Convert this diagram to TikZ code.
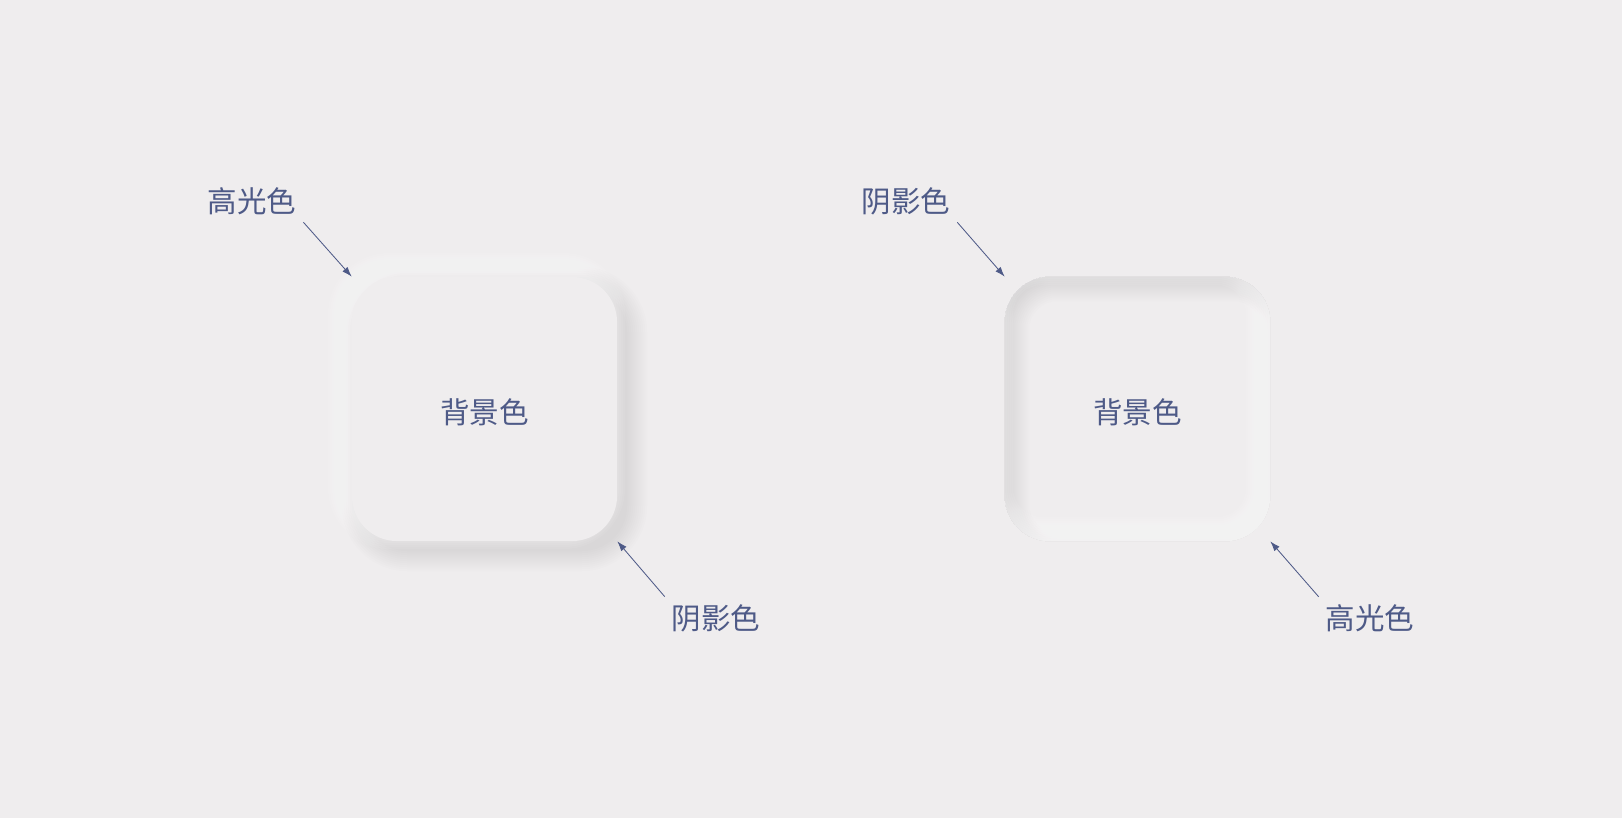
\documentclass[tikz,border=0pt]{standalone}
\usepackage{fontspec}
\newfontfamily\cjk{Noto Sans CJK SC}
\usetikzlibrary{arrows.meta}
\definecolor{bgcol}{HTML}{EFEDEE}
\definecolor{txtcol}{HTML}{4E5A87}
\definecolor{darkcol}{HTML}{9C9AA2}

\begin{document}
\begin{tikzpicture}[x=0.025cm,y=-0.025cm,
	lbl/.style={font=\cjk\fontsize{21}{24}\selectfont,text=txtcol,inner sep=2pt},
	card/.style={fill=bgcol,rounded corners=1.125cm,minimum width=6.625cm,minimum height=6.6cm,inner sep=0pt,text height=20pt,text depth=0pt,font=\cjk\fontsize{21}{24}\selectfont,text=txtcol},
	arr/.style={draw=txtcol,line width=0.6pt,-{Latex[length=0.25cm,width=0.17cm]},shorten <=0.15cm}]

	\fill[bgcol] (0,0) rectangle (1622,818);

	\begin{scope}
		% raised card: shadow bottom right, highlight top left
		\newcommand\glowBox[5]{%
			\foreach \e in {0,...,#5}
			{
				\pgfmathsetmacro\r{(45+2*\e)*0.025}
				\fill[#3,opacity=#4,rounded corners=\r cm] (352-2*\e+#1,277-2*\e+#2) rectangle (617+2*\e+#1,541+2*\e+#2);
			}}
		\glowBox{10}{10}{darkcol}{0.024}{10}
		\glowBox{-8}{-8}{white}{0.07}{8}

		\node[card] (boxA) at (484.5,409) {背景色};

		\node[lbl] (hlA) at (252,201) {高光色};
		\node[lbl] (shA) at (716,618) {阴影色};
	\end{scope}

	\node[card] (boxB) at (1137.5,409) {背景色};
	\begin{scope}
		% sunken card: shadow top left, highlight bottom right
		\clip[rounded corners=1.125cm] (boxB.north west) rectangle (boxB.south east);
		\newcommand\innerGlow[4]{%
			\foreach \g in {-16,-14,...,16}
			{
				\pgfmathsetmacro\r{max(45+\g,8)*0.025}
				\fill[#3,opacity=#4,even odd rule] (900,170) rectangle (1380,650) [rounded corners=\r cm] (1005+#1-\g,277+#2-\g) rectangle (1270+#1+\g,541+#2+\g);
			}}
		\innerGlow{8}{8}{darkcol}{0.02}
		\innerGlow{-8}{-8}{white}{0.075}
	\end{scope}
	\node[lbl] (shB) at (906,201) {阴影色};
	\node[lbl] (hlB) at (1370,618) {高光色};

	\draw[arr] (hlA.south east) -- (boxA.north west);
	\draw[arr] (shA.north west) -- (boxA.south east);
	\draw[arr] (shB.south east) -- (boxB.north west);
	\draw[arr] (hlB.north west) -- (boxB.south east);
\end{tikzpicture}
\end{document}
